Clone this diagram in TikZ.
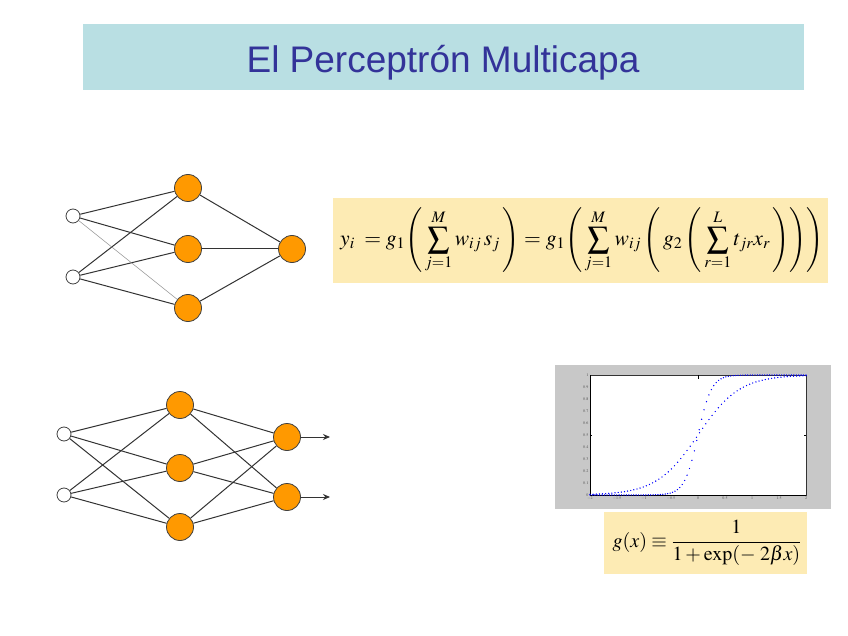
\documentclass[tikz,border=0pt]{standalone}
\usepackage{mathptmx}
\usepackage{fontspec}
\setmainfont{Liberation Serif}
\setsansfont{Liberation Sans}
\usepackage{tikz}
\usetikzlibrary{arrows.meta}
\definecolor{titlebg}{RGB}{185, 223, 227}
\definecolor{titleblue}{RGB}{51, 51, 153}
\definecolor{neuronorange}{RGB}{255, 153, 0}
\definecolor{formulayellow}{RGB}{253, 235, 180}
\definecolor{plotgray}{RGB}{200, 200, 200}

\begin{document}
\begin{tikzpicture}[x=1pt, y=-1pt,
    neuron/.style={circle, draw=black!75, fill=neuronorange, minimum size=27pt, inner sep=0pt, line width=0.8pt},
    innode/.style={circle, draw=black!75, fill=white, minimum size=14pt, inner sep=0pt, line width=0.8pt},
    link/.style={draw=black!80, line width=1pt}]
    \useasboundingbox (0,0) rectangle (848,636);
    \fill[white] (0,0) rectangle (848,636);
    \fill[titlebg] (83,24) rectangle (804,90);
    \node (title) at (443,73) [anchor=base, font=\sffamily\fontsize{37}{40}\selectfont, text=titleblue] {El Perceptrón Multicapa};
    \foreach \i/\y in {1/216, 2/277}
      \node[innode] (a\i) at (73,\y) {};
    \foreach \j/\y in {1/188, 2/249, 3/308}
      \node[neuron] (b\j) at (188,\y) {};
    \node[neuron] (c) at (292,249) {};
    \foreach \i/\j in {1/1, 1/2, 2/1, 2/2, 2/3}
      \draw[link] (a\i) -- (b\j);
    \draw[thin, gray] (a1) -- (b3);
    \foreach \j in {1,2,3}
      \draw[link] (b\j) -- (c);
    \foreach \i/\y in {1/434, 2/495}
      \node[innode] (p\i) at (64,\y) {};
    \foreach \j/\y in {1/405, 2/468, 3/527}
      \node[neuron] (q\j) at (180,\y) {};
    \foreach \k/\y in {1/437, 2/497} {
      \node[neuron] (o\k) at (287,\y) {};
      \coordinate (out\k) at (330,\y);
      \draw[-{Stealth[length=7pt, width=6pt]}, link] (o\k) -- (out\k);
    }
    \foreach \i in {1,2}
      \foreach \j in {1,2,3}
        \draw[link] (p\i) -- (q\j);
    \foreach \j in {1,2,3}
      \foreach \k in {1,2}
        \draw[link] (q\j) -- (o\k);
    \fill[formulayellow] (333,198) rectangle (828,283);
    \node (netformula) at (582,240.5) [font=\fontsize{21.6}{26}\selectfont]
      {$\displaystyle y_i \;=g_1\!\left(\,\sum_{j=1}^{M} w_{ij}\, s_j\,\right) =g_1\!\left(\,\sum_{j=1}^{M} w_{ij}\left(\,g_2\left(\,\sum_{r=1}^{L} t_{jr} x_r\,\right)\right)\right)$};
    \fill[plotgray] (555,365) rectangle (831,509);
    \fill[white] (590,375) rectangle (806,495);
    \begin{scope}[shift={(698,495)}, x=54pt, y=120pt]
      \draw[black!80, line width=0.4pt] (-2,0) rectangle (2,1);
      \draw[black, line width=0.8pt] (-2,1) -- (-2,0) -- (2,0);
      \foreach \t in {0,0.1,...,1.01}
        \node at (-2,\t) [anchor=east, inner sep=1.5pt, font=\fontsize{4}{4}\selectfont, text=black!70] {\pgfmathprintnumber[fixed, precision=1]{\t}};
      \foreach \t in {-2,-1.5,...,2.01}
        \node at (\t,0) [anchor=north, inner sep=1.5pt, font=\fontsize{4}{4}\selectfont, text=black!70] {\pgfmathprintnumber[fixed, precision=1]{\t}};
      \draw[black] (0,1) -- (0,0.97) (2,0.5) -- (1.96,0.5) (-2,0.5) -- (-1.96,0.5);
      \draw[blue] plot[only marks, mark=*, mark size=0.4pt, domain=-2:2, samples=90] (\x,{1/(1+exp(min(-8*\x,9)))});
      \draw[blue] plot[only marks, mark=*, mark size=0.4pt, domain=-2:2, samples=70] (\x,{1/(1+exp(-2.6*\x))});
    \end{scope}
    \fill[formulayellow] (604,512) rectangle (807,574);
    \node (gformula) at (707,543) [font=\fontsize{20}{24}\selectfont]
      {$\displaystyle g(x) \equiv \frac{1}{1+\exp(-\;2\beta x)}$};
\end{tikzpicture}
\end{document}
